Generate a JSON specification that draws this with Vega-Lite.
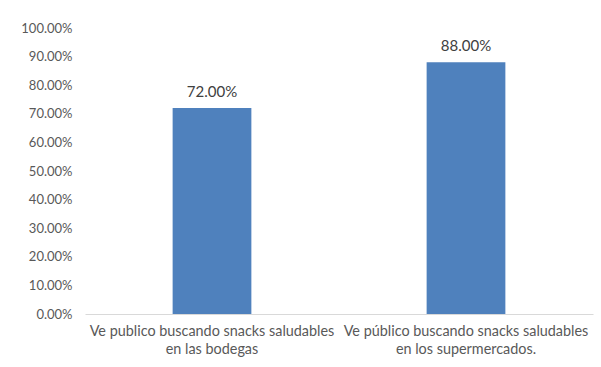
{
  "$schema": "https://vega.github.io/schema/vega-lite/v6.json",
  "width": 508,
  "height": 286,
  "autosize": {"type": "none"},
  "padding": {"left": 85, "top": 28, "right": 8, "bottom": 53},
  "background": "white",
  "config": {"view": {"stroke": null}, "font": "Lato"},
  "data": {"values": [
    {"categoria": "Ve publico buscando snacks saludables en las bodegas", "valor": 0.72},
    {"categoria": "Ve público buscando snacks saludables en los supermercados.", "valor": 0.88}
  ]},
  "encoding": {
    "x": {
      "field": "categoria", "type": "nominal", "sort": null,
      "scale": {"paddingInner": 0.69, "paddingOuter": 0.345},
      "axis": {
        "title": null, "labelAngle": 0, "ticks": false,
        "domainColor": "#d9d9d9", "domainWidth": 1,
        "labelColor": "#595959", "labelFont": "Lato", "labelFontSize": 14.4,
        "labelPadding": 10, "labelLineHeight": 18, "labelLimit": 300,
        "labelExpr": "[substring(datum.value, 0, indexof(datum.value, ' en ')), substring(datum.value, indexof(datum.value, ' en ') + 1)]"
      }
    },
    "y": {
      "field": "valor", "type": "quantitative",
      "scale": {"domain": [0, 1], "nice": false},
      "axis": {
        "title": null, "format": ".2%", "values": [0, 0.1, 0.2, 0.3, 0.4, 0.5, 0.6, 0.7, 0.8, 0.9, 1.0],
        "grid": false, "domain": false, "ticks": false,
        "labelColor": "#595959", "labelFont": "Lato", "labelFontSize": 13, "labelPadding": 13
      }
    }
  },
  "layer": [
    {"mark": {"type": "bar", "color": "#4f81bd"}},
    {
      "mark": {"type": "text", "dy": -8, "baseline": "bottom", "fontSize": 15, "color": "#404040", "font": "Lato"},
      "encoding": {"text": {"field": "valor", "type": "quantitative", "format": ".2%"}}
    }
  ]
}
